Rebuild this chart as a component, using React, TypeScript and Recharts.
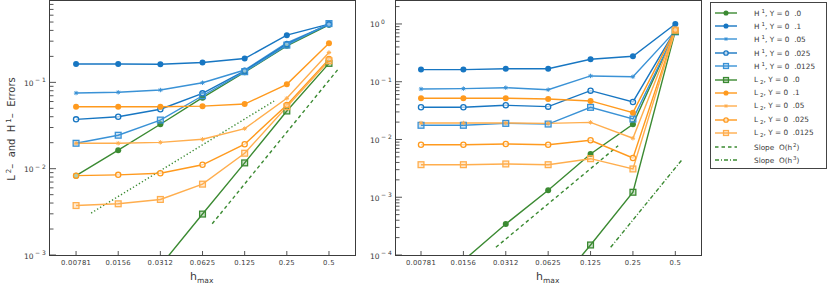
import React from "react";
import { LineChart, Line, XAxis, YAxis } from "recharts";

// mesh sizes (h_max) and tick labels
const hValues = [0.0078125, 0.015625, 0.03125, 0.0625, 0.125, 0.25, 0.5];
const hLabels = ["0.00781", "0.0156", "0.0312", "0.0625", "0.125", "0.25", "0.5"];

// left panel
const leftH1_0 = [0.0083, 0.0164, 0.0327, 0.0664, 0.131, 0.265, 0.465];
const leftH1_01 = [0.163, 0.163, 0.162, 0.17, 0.189, 0.352, 0.472];
const leftH1_005 = [0.0752, 0.0767, 0.0815, 0.099, 0.139, 0.287, 0.47];
const leftH1_0025 = [0.0373, 0.04, 0.0488, 0.0746, 0.136, 0.277, 0.47];
const leftH1_00125 = [0.0197, 0.0244, 0.0366, 0.07, 0.133, 0.27, 0.48];
const leftL2_0 = [0.00005, 0.00019, 0.00075, 0.00298, 0.01167, 0.0466, 0.166];
const leftL2_01 = [0.0522, 0.0522, 0.0522, 0.053, 0.0561, 0.0948, 0.283];
const leftL2_005 = [0.0197, 0.0197, 0.0202, 0.0219, 0.0291, 0.0653, 0.222];
const leftL2_0025 = [0.0083, 0.00848, 0.00887, 0.0111, 0.0192, 0.0547, 0.186];
const leftL2_00125 = [0.00374, 0.00392, 0.0044, 0.00662, 0.0151, 0.0522, 0.178];

// right panel
const rightH1_0 = [0.00002, 0.00008, 0.000344, 0.00132, 0.00561, 0.0183, 0.75];
const rightH1_01 = [0.162, 0.162, 0.168, 0.168, 0.245, 0.276, 1.0];
const rightH1_005 = [0.0749, 0.0759, 0.0788, 0.0728, 0.126, 0.122, 0.76];
const rightH1_0025 = [0.0361, 0.0361, 0.0391, 0.037, 0.07, 0.0446, 0.78];
const rightH1_00125 = [0.0176, 0.0176, 0.019, 0.0185, 0.036, 0.0226, 0.73];
const rightL2_0 = [0.00000004, 0.0000003, 0.0000024, 0.0000195, 0.000149, 0.00122, 0.75];
const rightL2_01 = [0.0517, 0.0517, 0.0517, 0.0503, 0.0465, 0.0291, 0.8];
const rightL2_005 = [0.0193, 0.0193, 0.0193, 0.019, 0.0198, 0.0105, 0.79];
const rightL2_0025 = [0.00813, 0.00813, 0.00835, 0.00813, 0.00968, 0.00479, 0.79];
const rightL2_00125 = [0.00366, 0.00366, 0.00377, 0.00366, 0.00465, 0.00309, 0.78];

// reference slope segments [h, value]
const leftSlope1 = [[0.01001, 0.00306], [0.2028, 0.0608]];
const leftSlope2 = [[0.0733, 0.0023], [0.592, 0.1475]];
const rightSlope2 = [[0.0266, 0.000136], [0.1964, 0.00781]];
const rightSlope3 = [[0.1737, 0.000136], [0.563, 0.00459]];

const GREEN = "#3b8a32";
const BLUE = "#1776c2";
const BLUE_L = "#3a92d6";
const ORANGE = "#ff9a1e";
const ORANGE_L = "#ffae4e";
const FONT = "DejaVu Sans, sans-serif";
const TXT = "#3a3a3a";

type Marker = "dot" | "star" | "ring" | "square";

interface Series {
  key: string;
  norm: "H" | "L";
  gamma: string;
  color: string;
  marker: Marker;
}

const series: Series[] = [
  { key: "h1_0", norm: "H", gamma: ".0", color: GREEN, marker: "dot" },
  { key: "h1_01", norm: "H", gamma: ".1", color: BLUE, marker: "dot" },
  { key: "h1_005", norm: "H", gamma: ".05", color: BLUE_L, marker: "star" },
  { key: "h1_0025", norm: "H", gamma: ".025", color: BLUE, marker: "ring" },
  { key: "h1_00125", norm: "H", gamma: ".0125", color: BLUE_L, marker: "square" },
  { key: "l2_0", norm: "L", gamma: ".0", color: GREEN, marker: "square" },
  { key: "l2_01", norm: "L", gamma: ".1", color: ORANGE, marker: "dot" },
  { key: "l2_005", norm: "L", gamma: ".05", color: ORANGE_L, marker: "star" },
  { key: "l2_0025", norm: "L", gamma: ".025", color: ORANGE, marker: "ring" },
  { key: "l2_00125", norm: "L", gamma: ".0125", color: ORANGE_L, marker: "square" },
];

const buildRows = (cols: Record<string, number[]>) =>
  hValues.map((h, i) => {
    const row: Record<string, number> = { h };
    Object.keys(cols).forEach((k) => (row[k] = cols[k][i]));
    return row;
  });

const leftRows = buildRows({
  h1_0: leftH1_0, h1_01: leftH1_01, h1_005: leftH1_005, h1_0025: leftH1_0025, h1_00125: leftH1_00125,
  l2_0: leftL2_0, l2_01: leftL2_01, l2_005: leftL2_005, l2_0025: leftL2_0025, l2_00125: leftL2_00125,
});
const rightRows = buildRows({
  h1_0: rightH1_0, h1_01: rightH1_01, h1_005: rightH1_005, h1_0025: rightH1_0025, h1_00125: rightH1_00125,
  l2_0: rightL2_0, l2_01: rightL2_01, l2_005: rightL2_005, l2_0025: rightL2_0025, l2_00125: rightL2_00125,
});

const seg = (pts: number[][]) => pts.map(([h, v]) => ({ h, v }));

function drawMarker(m: Marker, color: string, cx: number, cy: number, s = 1, key?: any) {
  if (m === "dot") return <circle key={key} cx={cx} cy={cy} r={3 * s} fill={color} />;
  if (m === "ring")
    return <circle key={key} cx={cx} cy={cy} r={2.6 * s} fill="#fff" fillOpacity={0.6} stroke={color} strokeWidth={1.3} />;
  if (m === "square") {
    const a = 2.9 * s;
    return (
      <rect key={key} x={cx - a} y={cy - a} width={2 * a} height={2 * a}
        fill={color} fillOpacity={0.25} stroke={color} strokeWidth={1.3} />
    );
  }
  const a = 2.2 * s;
  return (
    <g key={key} stroke={color} strokeWidth={1}>
      <line x1={cx - a} y1={cy} x2={cx + a} y2={cy} />
      <line x1={cx} y1={cy - a} x2={cx} y2={cy + a} />
      <line x1={cx - a * 0.7} y1={cy - a * 0.7} x2={cx + a * 0.7} y2={cy + a * 0.7} />
      <line x1={cx - a * 0.7} y1={cy + a * 0.7} x2={cx + a * 0.7} y2={cy - a * 0.7} />
    </g>
  );
}

const makeDot = (s: Series) => (p: any) => {
  if (p.cx == null || p.cy == null || p.value == null) return <g key={p.index} />;
  return drawMarker(s.marker, s.color, p.cx, p.cy, 1, p.index);
};

function logTicks(lo: number, hi: number) {
  const out: number[] = [];
  for (let e = Math.floor(Math.log10(lo)); e <= Math.ceil(Math.log10(hi)); e++) {
    for (let m = 1; m < 10; m++) {
      const v = m * Math.pow(10, e);
      if (v >= lo * 0.999 && v <= hi) out.push(v);
    }
  }
  return out;
}

const PLOT_BOTTOM = 255;

const makeYTick = (plotLeft: number) => (p: any) => {
  const v = p.payload.value;
  const e = Math.round(Math.log10(v));
  const major = Math.abs(v / Math.pow(10, e) - 1) < 1e-6;
  const y = p.y;
  return (
    <g>
      <line x1={plotLeft} y1={y} x2={plotLeft + (major ? 6 : 3.5)} y2={y} stroke="#555" strokeWidth={1} />
      {major && (
        <text x={plotLeft - 26} y={y + 3.5} fontSize={7.5} fill={TXT} fontFamily={FONT}>
          10
          <tspan dx={1.5} dy={-3.5} fontSize={6}>{e < 0 ? `\u2212 ${-e}` : `${e}`}</tspan>
        </text>
      )}
    </g>
  );
};

const XTick = (p: any) => {
  const i = hValues.findIndex((h) => Math.abs(h - p.payload.value) < 1e-9);
  return (
    <g>
      <line x1={p.x} y1={PLOT_BOTTOM} x2={p.x} y2={PLOT_BOTTOM - 4} stroke="#555" strokeWidth={1} />
      <text x={p.x} y={PLOT_BOTTOM + 10} textAnchor="middle" fontSize={6.8} fill={TXT}
        fontFamily={FONT} letterSpacing={0.3}>
        {hLabels[i]}
      </text>
    </g>
  );
};

interface PanelProps {
  rows: Record<string, number>[];
  xDomain: [number, number];
  yDomain: [number, number];
  axisWidth: number;
  width: number;
  slopes: { pts: number[][]; dash: string }[];
}

function Panel({ rows, xDomain, yDomain, axisWidth, width, slopes }: PanelProps) {
  return (
    <LineChart width={width} height={288} data={rows} margin={{ top: 0, right: width - axisWidth - 305, bottom: 0, left: 0 }}>
      <XAxis dataKey="h" type="number" scale="log" domain={xDomain} allowDataOverflow ticks={hValues}
        interval={0} height={33} axisLine={false} tickLine={false} tick={XTick} />
      <YAxis type="number" scale="log" domain={yDomain} allowDataOverflow ticks={logTicks(yDomain[0], yDomain[1])}
        interval={0} width={axisWidth} axisLine={false} tickLine={false} tick={makeYTick(axisWidth)} />
      {slopes.map((s, i) => (
        <Line key={"slope" + i} data={seg(s.pts)} dataKey="v" stroke={GREEN} strokeWidth={1.4}
          strokeDasharray={s.dash} dot={false} isAnimationActive={false} />
      ))}
      {series.map((s) => (
        <Line key={s.key} dataKey={s.key} stroke={s.color} strokeWidth={1.4} dot={makeDot(s)}
          activeDot={false} isAnimationActive={false} />
      ))}
    </LineChart>
  );
}

function LegendLabel({ s }: { s: Series }) {
  return (
    <span>
      {s.norm}
      {s.norm === "H" ? (
        <span style={{ fontSize: 5.5, verticalAlign: 3, marginLeft: 2 }}>1</span>
      ) : (
        <span style={{ fontSize: 5.5, verticalAlign: -2, marginLeft: 2 }}>2</span>
      )}
      , Y = 0 &nbsp;{s.gamma}
    </span>
  );
}

function Legend() {
  const rowH = 13.4;
  return (
    <div style={{ position: "absolute", left: 710, top: 2, width: 117, height: 167, border: "1px solid #444",
      boxSizing: "border-box", background: "#fff", fontFamily: FONT, fontSize: 7.3, color: TXT }}>
      {series.map((s, i) => (
        <div key={s.key} style={{ position: "absolute", left: 0, top: 3 + i * rowH, height: rowH, width: 115,
          display: "flex", alignItems: "center" }}>
          <svg width={30} height={12} style={{ marginLeft: 4 }}>
            <line x1={0} y1={6} x2={22} y2={6} stroke={s.color} strokeWidth={1.4} />
            {drawMarker(s.marker, s.color, 11, 6, 0.85)}
          </svg>
          <span style={{ marginLeft: 9 }}><LegendLabel s={s} /></span>
        </div>
      ))}
      {[
        { dash: "3.5 3", label: "2" },
        { dash: "4 2 1 2", label: "3" },
      ].map((d, i) => (
        <div key={d.label} style={{ position: "absolute", left: 0, top: 3 + (10 + i) * rowH, height: rowH, width: 115,
          display: "flex", alignItems: "center" }}>
          <svg width={30} height={12} style={{ marginLeft: 4 }}>
            <line x1={0} y1={6} x2={22} y2={6} stroke={GREEN} strokeWidth={1.3} strokeDasharray={d.dash} />
          </svg>
          <span style={{ marginLeft: 9 }}>
            Slope &nbsp;O(h<span style={{ fontSize: 5.5, verticalAlign: 3, marginLeft: 1 }}>{d.label}</span>)
          </span>
        </div>
      ))}
    </div>
  );
}

const frame = (left: number): React.CSSProperties => ({
  position: "absolute", left, top: 0, width: 307, height: 256, border: "1.6px solid #3c3c3c",
  boxSizing: "border-box", pointerEvents: "none",
});

const xLabel = (left: number): React.CSSProperties => ({
  position: "absolute", left, top: 270, fontFamily: FONT, fontSize: 11, color: TXT,
});

export default function App() {
  return (
    <div style={{ position: "absolute", left: 0, top: 0, width: 831, height: 288, background: "#fff", overflow: "hidden" }}>
      <div style={{ position: "absolute", left: 0, top: 0 }}>
        <Panel rows={leftRows} xDomain={[0.00509, 0.767]} yDomain={[0.001, 0.9]} axisWidth={50} width={360}
          slopes={[{ pts: leftSlope1, dash: "1.3 2.2" }, { pts: leftSlope2, dash: "3.5 3" }]} />
      </div>
      <div style={{ position: "absolute", left: 360, top: 0 }}>
        <Panel rows={rightRows} xDomain={[0.00519, 0.761]} yDomain={[0.0001, 2.6]} axisWidth={36} width={345}
          slopes={[{ pts: rightSlope2, dash: "3.5 3" }, { pts: rightSlope3, dash: "4 2 1 2" }]} />
      </div>
      <div style={frame(49)} />
      <div style={frame(395)} />
      <div style={{ position: "absolute", left: 11, top: 129, transform: "translate(-50%, -50%) rotate(-90deg)",
        whiteSpace: "nowrap", fontFamily: FONT, fontSize: 10, color: TXT }}>
        L<span style={{ fontSize: 7, verticalAlign: 4, marginLeft: 2 }}>2</span>– &nbsp;and &nbsp;H
        <span style={{ fontSize: 7, verticalAlign: 4, marginLeft: 2 }}>1</span>– &nbsp;Errors
      </div>
      <div style={xLabel(190)}>h<span style={{ fontSize: 7.5, verticalAlign: -3 }}>max</span></div>
      <div style={xLabel(536)}>h<span style={{ fontSize: 7.5, verticalAlign: -3 }}>max</span></div>
      <Legend />
    </div>
  );
}
